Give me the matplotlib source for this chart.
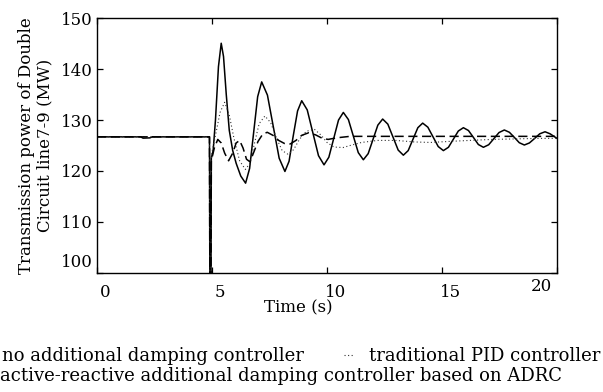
import matplotlib
matplotlib.use("Agg")
import matplotlib.pyplot as plt
from matplotlib.lines import Line2D

plt.rcParams['font.family'] = ['DejaVu Serif']

# no additional damping controller (solid)
t_none = [0, 1.9, 2.0, 2.3, 2.4, 4.89, 4.91, 4.95, 4.97, 5.05, 5.15, 5.28, 5.40,
          5.50, 5.62, 5.75, 5.90, 6.05, 6.25, 6.46, 6.635, 6.81, 6.985, 7.16,
          7.41, 7.665, 7.92, 8.17, 8.35, 8.53, 8.72, 8.90, 9.14, 9.385, 9.63, 9.87,
          10.08, 10.29, 10.50, 10.71, 10.93, 11.145, 11.36, 11.58, 11.79, 12.0, 12.21,
          12.42, 12.645, 12.87, 13.095, 13.32, 13.53, 13.74, 13.95, 14.16, 14.385,
          14.61, 14.835, 15.06, 15.28, 15.495, 15.71, 15.93, 16.15, 16.365, 16.58,
          16.8, 17.03, 17.255, 17.48, 17.71, 17.93, 18.145, 18.36, 18.58, 18.8,
          19.03, 19.25, 19.48, 19.7, 20.0]
p_none = [126.7, 126.7, 126.45, 126.5, 126.7, 126.7, 90, 90, 122.5, 124.0, 130.0, 140.5, 145.1,
          142.5, 135.0, 128.0, 124.0, 121.5, 119.0, 117.6, 120.5, 127.55, 134.6, 137.5,
          134.9, 128.7, 122.5, 119.9, 121.9, 126.85, 131.8, 133.8, 132.0, 127.5, 123.0, 121.2,
          122.7, 126.35, 130.0, 131.5, 130.1, 126.85, 123.6, 122.2, 123.4, 126.2, 129.0,
          130.2, 129.2, 126.65, 124.1, 123.1, 124.0, 126.25, 128.5, 129.4, 128.6,
          126.7, 124.8, 124.0, 124.65, 126.25, 127.85, 128.5, 127.95, 126.6, 125.2,
          124.65, 125.15, 126.35, 127.55, 128.05, 127.6, 126.6, 125.55, 125.1, 125.5,
          126.4, 127.3, 127.7, 127.3, 126.4]

# traditional PID controller (dotted)
t_pid = [0, 4.89, 4.91, 4.95, 4.97, 5.15, 5.35, 5.55, 5.75, 5.95, 6.2, 6.45, 6.65,
         6.85, 7.05, 7.3, 7.55, 7.8, 8.05, 8.3, 8.55, 8.8, 9.1, 9.45, 9.75, 10.0,
         10.3, 10.7, 11.0, 11.5, 12.2, 13.0, 13.8, 14.5, 15.3, 16.2, 17.2, 18.2,
         19.2, 20.0]
p_pid = [126.7, 126.7, 90, 90, 123.0, 127.0, 131.5, 133.5, 131.0, 126.5, 122.0, 120.3, 121.5,
         125.5, 129.3, 130.8, 129.5, 126.5, 124.0, 123.3, 124.2, 126.2, 127.8, 128.2, 127.0, 125.6,
         124.7, 124.6, 125.0, 125.6, 126.0, 126.0, 125.7, 125.6, 125.8, 126.0, 126.2, 126.3,
         126.4, 126.4]

# active-reactive additional damping controller based on ADRC (dashed)
t_adrc = [0, 4.89, 4.91, 4.95, 4.97, 5.1, 5.25, 5.4, 5.55, 5.72, 5.9, 6.05, 6.2,
          6.35, 6.5, 6.65, 6.8, 7.0, 7.2, 7.4, 7.65, 7.9, 8.15, 8.4, 8.65, 8.9,
          9.2, 9.5, 9.8, 10.05, 10.4, 11.0, 20.0]
p_adrc = [126.7, 126.7, 90, 90, 122.0, 124.5, 126.2, 125.5, 123.5, 122.0, 123.5, 125.5, 126.0,
          124.5, 122.3, 121.8, 123.5, 125.8, 127.2, 127.6, 127.0, 126.0, 125.4, 125.3, 126.0, 127.0,
          127.5, 127.1, 126.4, 126.2, 126.5, 126.8, 126.8]

x_ticks = [0, 5, 10, 15, 20]
y_ticks = [100, 110, 120, 130, 140, 150]

labels = ['no additional damping controller',
          'traditional PID controller',
          'active-reactive additional damping controller based on ADRC']

fig = plt.figure(figsize=(6.03, 3.92), dpi=100)
ax = fig.add_axes([0.1609, 0.3043, 0.7628, 0.649])

l_none, = ax.plot(t_none, p_none, color='black', linewidth=1.1, linestyle='-')
l_pid, = ax.plot(t_pid, p_pid, color='#333333', linewidth=0.8, linestyle=(0, (1, 2.2)))
l_adrc, = ax.plot(t_adrc, p_adrc, color='black', linewidth=1.1, linestyle=(0, (6, 3)))

ax.set_xlim(0, 20)
ax.set_ylim(100, 150)
ax.set_xticks(x_ticks)
ax.set_yticks(y_ticks)
ax.set_xticklabels([])
ax.tick_params(direction='in', length=4, width=0.9, top=True, right=True)
ax.tick_params(axis='y', labelsize=12, pad=3)
for s in ax.spines.values():
    s.set_linewidth(1.0)

# tick labels, offset like the original
for v in x_ticks:
    dx, dy = (6, -8) if v != 20 else (-11, -4)
    ax.annotate(str(v), xy=(v, 0), xycoords=('data', 'axes fraction'),
                xytext=(dx, dy), textcoords='offset points',
                ha='center', va='top', fontsize=12)
ylabs = ax.get_yticklabels()
ax.set_yticklabels([str(v) if v != 100 else '' for v in y_ticks])
ax.annotate('100', xy=(0, 100), xycoords=('axes fraction', 'data'),
            xytext=(-3, 7), textcoords='offset points',
            ha='right', va='center', fontsize=12)

ax.set_xlabel('Time (s)', fontsize=12, va='top')
ax.xaxis.set_label_coords(0.437, -0.103)
ax.text(-0.1326, 0.5, 'Transmission power of Double\nCircuit line7-9 (MW)',
        transform=ax.transAxes, rotation=90, ha='center', va='center',
        fontsize=12, linespacing=1.1)

fig.legend([l_none, l_pid], labels[:2], loc='center left', ncol=2,
           bbox_to_anchor=(-0.038, 0.092), frameon=False, fontsize=13,
           handlelength=0.55, handletextpad=0.83, columnspacing=2.2,
           borderpad=0, borderaxespad=0)
fig.legend([l_adrc], labels[2:], loc='center left',
           bbox_to_anchor=(-0.041, 0.041), frameon=False, fontsize=13,
           handlelength=0.55, handletextpad=0.83,
           borderpad=0, borderaxespad=0)

fig.savefig('out.png', dpi=100)
